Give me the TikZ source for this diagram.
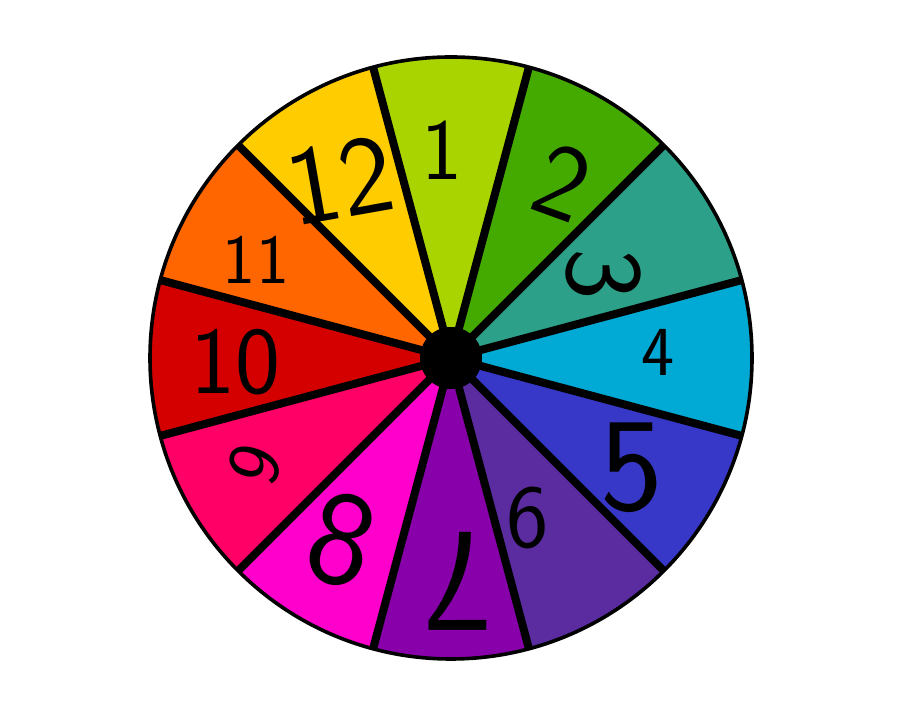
\documentclass[tikz,border=0pt]{standalone}
\usepackage{fontspec}
\definecolor{seglime}{HTML}{AAD400}
\definecolor{seggreen}{HTML}{44AA00}
\definecolor{segteal}{HTML}{2CA089}
\definecolor{segcyan}{HTML}{00AAD4}
\definecolor{segblue}{HTML}{3737C8}
\definecolor{segindigo}{HTML}{5A2CA0}
\definecolor{segpurple}{HTML}{8800AA}
\definecolor{segmagenta}{HTML}{FF00CC}
\definecolor{segpink}{HTML}{FF0066}
\definecolor{segred}{HTML}{D40000}
\definecolor{segorange}{HTML}{FF6600}
\definecolor{segyellow}{HTML}{FFCC00}
\usetikzlibrary{calc}
\tikzset{
  divider/.style={line width=0.2cm, black},
  rim/.style={line width=0.09cm, black},
  digit/.style={font=\sffamily\fontsize{#1}{#1}\selectfont, text=black, inner sep=0pt},
  digit/.default=60,
}

\begin{document}
\begin{tikzpicture}[x=0.025cm, y=0.025cm]
  \useasboundingbox (0,0) rectangle (900,720);
  \coordinate (hub) at (451,362);

  % Segments
  \fill[seglime]    (hub) -- ++(75:301)  arc[start angle=75,  end angle=105, radius=301] -- cycle;
  \fill[seggreen]   (hub) -- ++(45:301)  arc[start angle=45,  end angle=75,  radius=301] -- cycle;
  \fill[segteal]    (hub) -- ++(15:301)  arc[start angle=15,  end angle=45,  radius=301] -- cycle;
  \fill[segcyan]    (hub) -- ++(-15:301) arc[start angle=-15, end angle=15,  radius=301] -- cycle;
  \fill[segblue]    (hub) -- ++(-45:301) arc[start angle=-45, end angle=-15, radius=301] -- cycle;
  \fill[segindigo]  (hub) -- ++(-75:301) arc[start angle=-75, end angle=-45, radius=301] -- cycle;
  \fill[segpurple]  (hub) -- ++(-105:301) arc[start angle=-105, end angle=-75, radius=301] -- cycle;
  \fill[segmagenta] (hub) -- ++(-135:301) arc[start angle=-135, end angle=-105, radius=301] -- cycle;
  \fill[segpink]    (hub) -- ++(-165:301) arc[start angle=-165, end angle=-135, radius=301] -- cycle;
  \fill[segred]     (hub) -- ++(165:301) arc[start angle=165, end angle=195, radius=301] -- cycle;
  \fill[segorange]  (hub) -- ++(135:301) arc[start angle=135, end angle=165, radius=301] -- cycle;
  \fill[segyellow]  (hub) -- ++(105:301) arc[start angle=105, end angle=135, radius=301] -- cycle;

  % Dividers
  \draw[divider] ($(hub)+(15:301)$)  -- ($(hub)+(195:301)$);
  \draw[divider] ($(hub)+(45:301)$)  -- ($(hub)+(225:301)$);
  \draw[divider] ($(hub)+(75:301)$)  -- ($(hub)+(255:301)$);
  \draw[divider] ($(hub)+(105:301)$) -- ($(hub)+(285:301)$);
  \draw[divider] ($(hub)+(135:301)$) -- ($(hub)+(315:301)$);
  \draw[divider] ($(hub)+(165:301)$) -- ($(hub)+(345:301)$);

  % Rim and hub
  \draw[rim] (hub) circle[radius=301];
  \fill[black] (hub) circle[radius=31];

  % Numbers
  \node[digit=62] (n1)  at (442,570) {1};
  \node[digit=76, rotate=-20] (n2)  at (562,538) {2};
  \node[digit=78, rotate=-90] (n3)  at (603,446) {3};
  \node[digit=50] (n4)  at (658,368) {4};
  \node[digit=95] (n5)  at (632,252) {5};
  \node[digit=64] (n6)  at (528,202) {6};
  \node[digit=105, rotate=180] (n7)  at (458,139) {7};
  \node[digit=96, rotate=-15] (n8)  at (342,180) {8};
  \node[digit=54, rotate=70] (n9)  at (255,256) {9};
  \node[digit=68] (n10) at (235,358) {10};
  \node[digit=50] (n11) at (256,460) {11};
  \node[digit=80, rotate=10] (n12) at (340,540) {12};
\end{tikzpicture}
\end{document}
